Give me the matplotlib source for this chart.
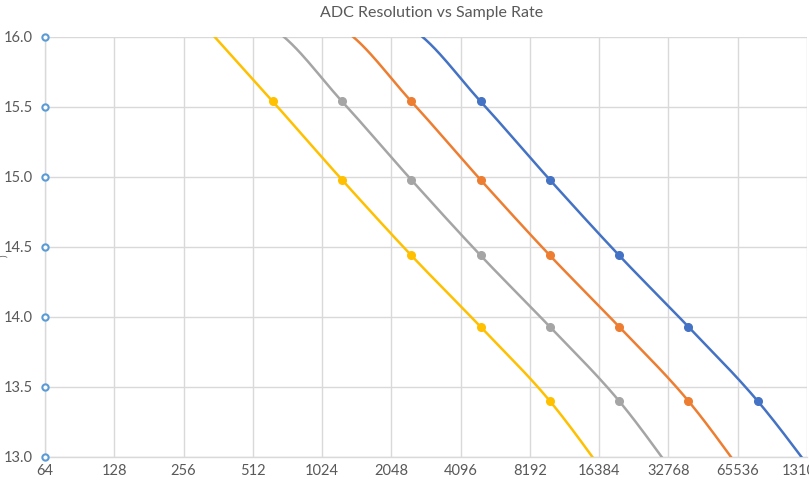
import numpy as np
import matplotlib
matplotlib.use('Agg')
import matplotlib.pyplot as plt

plt.rcParams['font.family'] = ['Lato', 'DejaVu Sans']

# sample rates (Hz) and resolution (bits) per series
rate_yellow = [156.25, 312.5, 625, 1250, 2500, 5000, 10000, 20000]
res_yellow = [16.64, 16.09, 15.54, 14.98, 14.44, 13.93, 13.40, 12.74]
rate_gray = [312.5, 625, 1250, 2500, 5000, 10000, 20000, 40000]
res_gray = [16.15, 16.06, 15.54, 14.98, 14.44, 13.93, 13.40, 12.74]
rate_orange = [625, 1250, 2500, 5000, 10000, 20000, 40000, 80000]
res_orange = [16.15, 16.06, 15.54, 14.98, 14.44, 13.93, 13.40, 12.74]
rate_blue = [1250, 2500, 5000, 10000, 20000, 40000, 80000, 160000]
res_blue = [16.15, 16.06, 15.54, 14.98, 14.44, 13.93, 13.40, 12.76]

axis_rate = [64, 64, 64, 64, 64, 64, 64]
axis_res = [13.0, 13.5, 14.0, 14.5, 15.0, 15.5, 16.0]

xticks = [64, 128, 256, 512, 1024, 2048, 4096, 8192, 16384, 32768, 65536, 131072]
yticks = [13.0, 13.5, 14.0, 14.5, 15.0, 15.5, 16.0]


def smooth(xs, ys, n=30):
    # catmull-rom through the points in log2(x) space, like excel's smoothed line
    lx = np.log2(xs)
    ys = np.asarray(ys, dtype=float)
    px = np.concatenate([[2 * lx[0] - lx[1]], lx, [2 * lx[-1] - lx[-2]]])
    py = np.concatenate([[2 * ys[0] - ys[1]], ys, [2 * ys[-1] - ys[-2]]])
    outx, outy = [], []
    t = np.linspace(0, 1, n)
    for i in range(1, len(px) - 2):
        for p, out in ((px, outx), (py, outy)):
            p0, p1, p2, p3 = p[i - 1], p[i], p[i + 1], p[i + 2]
            out.extend(0.5 * ((2 * p1) + (-p0 + p2) * t
                              + (2 * p0 - 5 * p1 + 4 * p2 - p3) * t ** 2
                              + (-p0 + 3 * p1 - 3 * p2 + p3) * t ** 3))
    return 2 ** np.array(outx), np.array(outy)


fig = plt.figure(figsize=(8.09, 4.83), dpi=100)
ax = fig.add_axes([45 / 809, 1 - 457 / 483, (807 - 45) / 809, (457 - 37) / 483])

series = [
    (rate_yellow, res_yellow, '#FFC000'),
    (rate_gray, res_gray, '#A5A5A5'),
    (rate_orange, res_orange, '#ED7D31'),
    (rate_blue, res_blue, '#4472C4'),
]
for xs, ys, c in series:
    sx, sy = smooth(xs, ys)
    ax.plot(sx, sy, color=c, lw=1.8, zorder=3)
    # markers only for the points inside the plot
    mx = [x for x, y in zip(xs, ys) if 13.0 < y < 16.0]
    my = [y for y in ys if 13.0 < y < 16.0]
    ax.plot(mx, my, 'o', color=c, ms=5.5, zorder=4)

ax.plot(axis_rate, axis_res, 'o', mfc='white', mec='#5B9BD5', mew=1.5, ms=4.5,
        zorder=5, clip_on=False)

ax.set_xscale('log', base=2)
ax.set_xlim(64, 131072)
ax.set_ylim(13.0, 16.0)
ax.set_xticks(xticks)
ax.set_xticklabels([str(v) for v in xticks])
ax.set_yticks(yticks)
ax.set_yticklabels([f'{v:.1f}' for v in yticks])
ax.minorticks_off()
ax.tick_params(length=0, labelsize=10.5, labelcolor='#595959')
ax.tick_params(axis='x', pad=5)
ax.tick_params(axis='y', pad=8.5)
ax.grid(True, color='#D9D9D9', lw=1)
ax.set_axisbelow(True)
for s in ['top', 'right']:
    ax.spines[s].set_visible(False)
for s in ['left', 'bottom']:
    ax.spines[s].set_color('#D9D9D9')
    ax.spines[s].set_linewidth(1)

fig.text(432 / 809, 1 - 13 / 483, 'ADC Resolution vs Sample Rate', ha='center',
         va='center', fontsize=11.5, color='#595959')
fig.text(4 / 809, 1 - 256 / 483, ')', ha='center', va='center', fontsize=7,
         color='#595959', rotation=90)

fig.savefig('out.png', dpi=100)
